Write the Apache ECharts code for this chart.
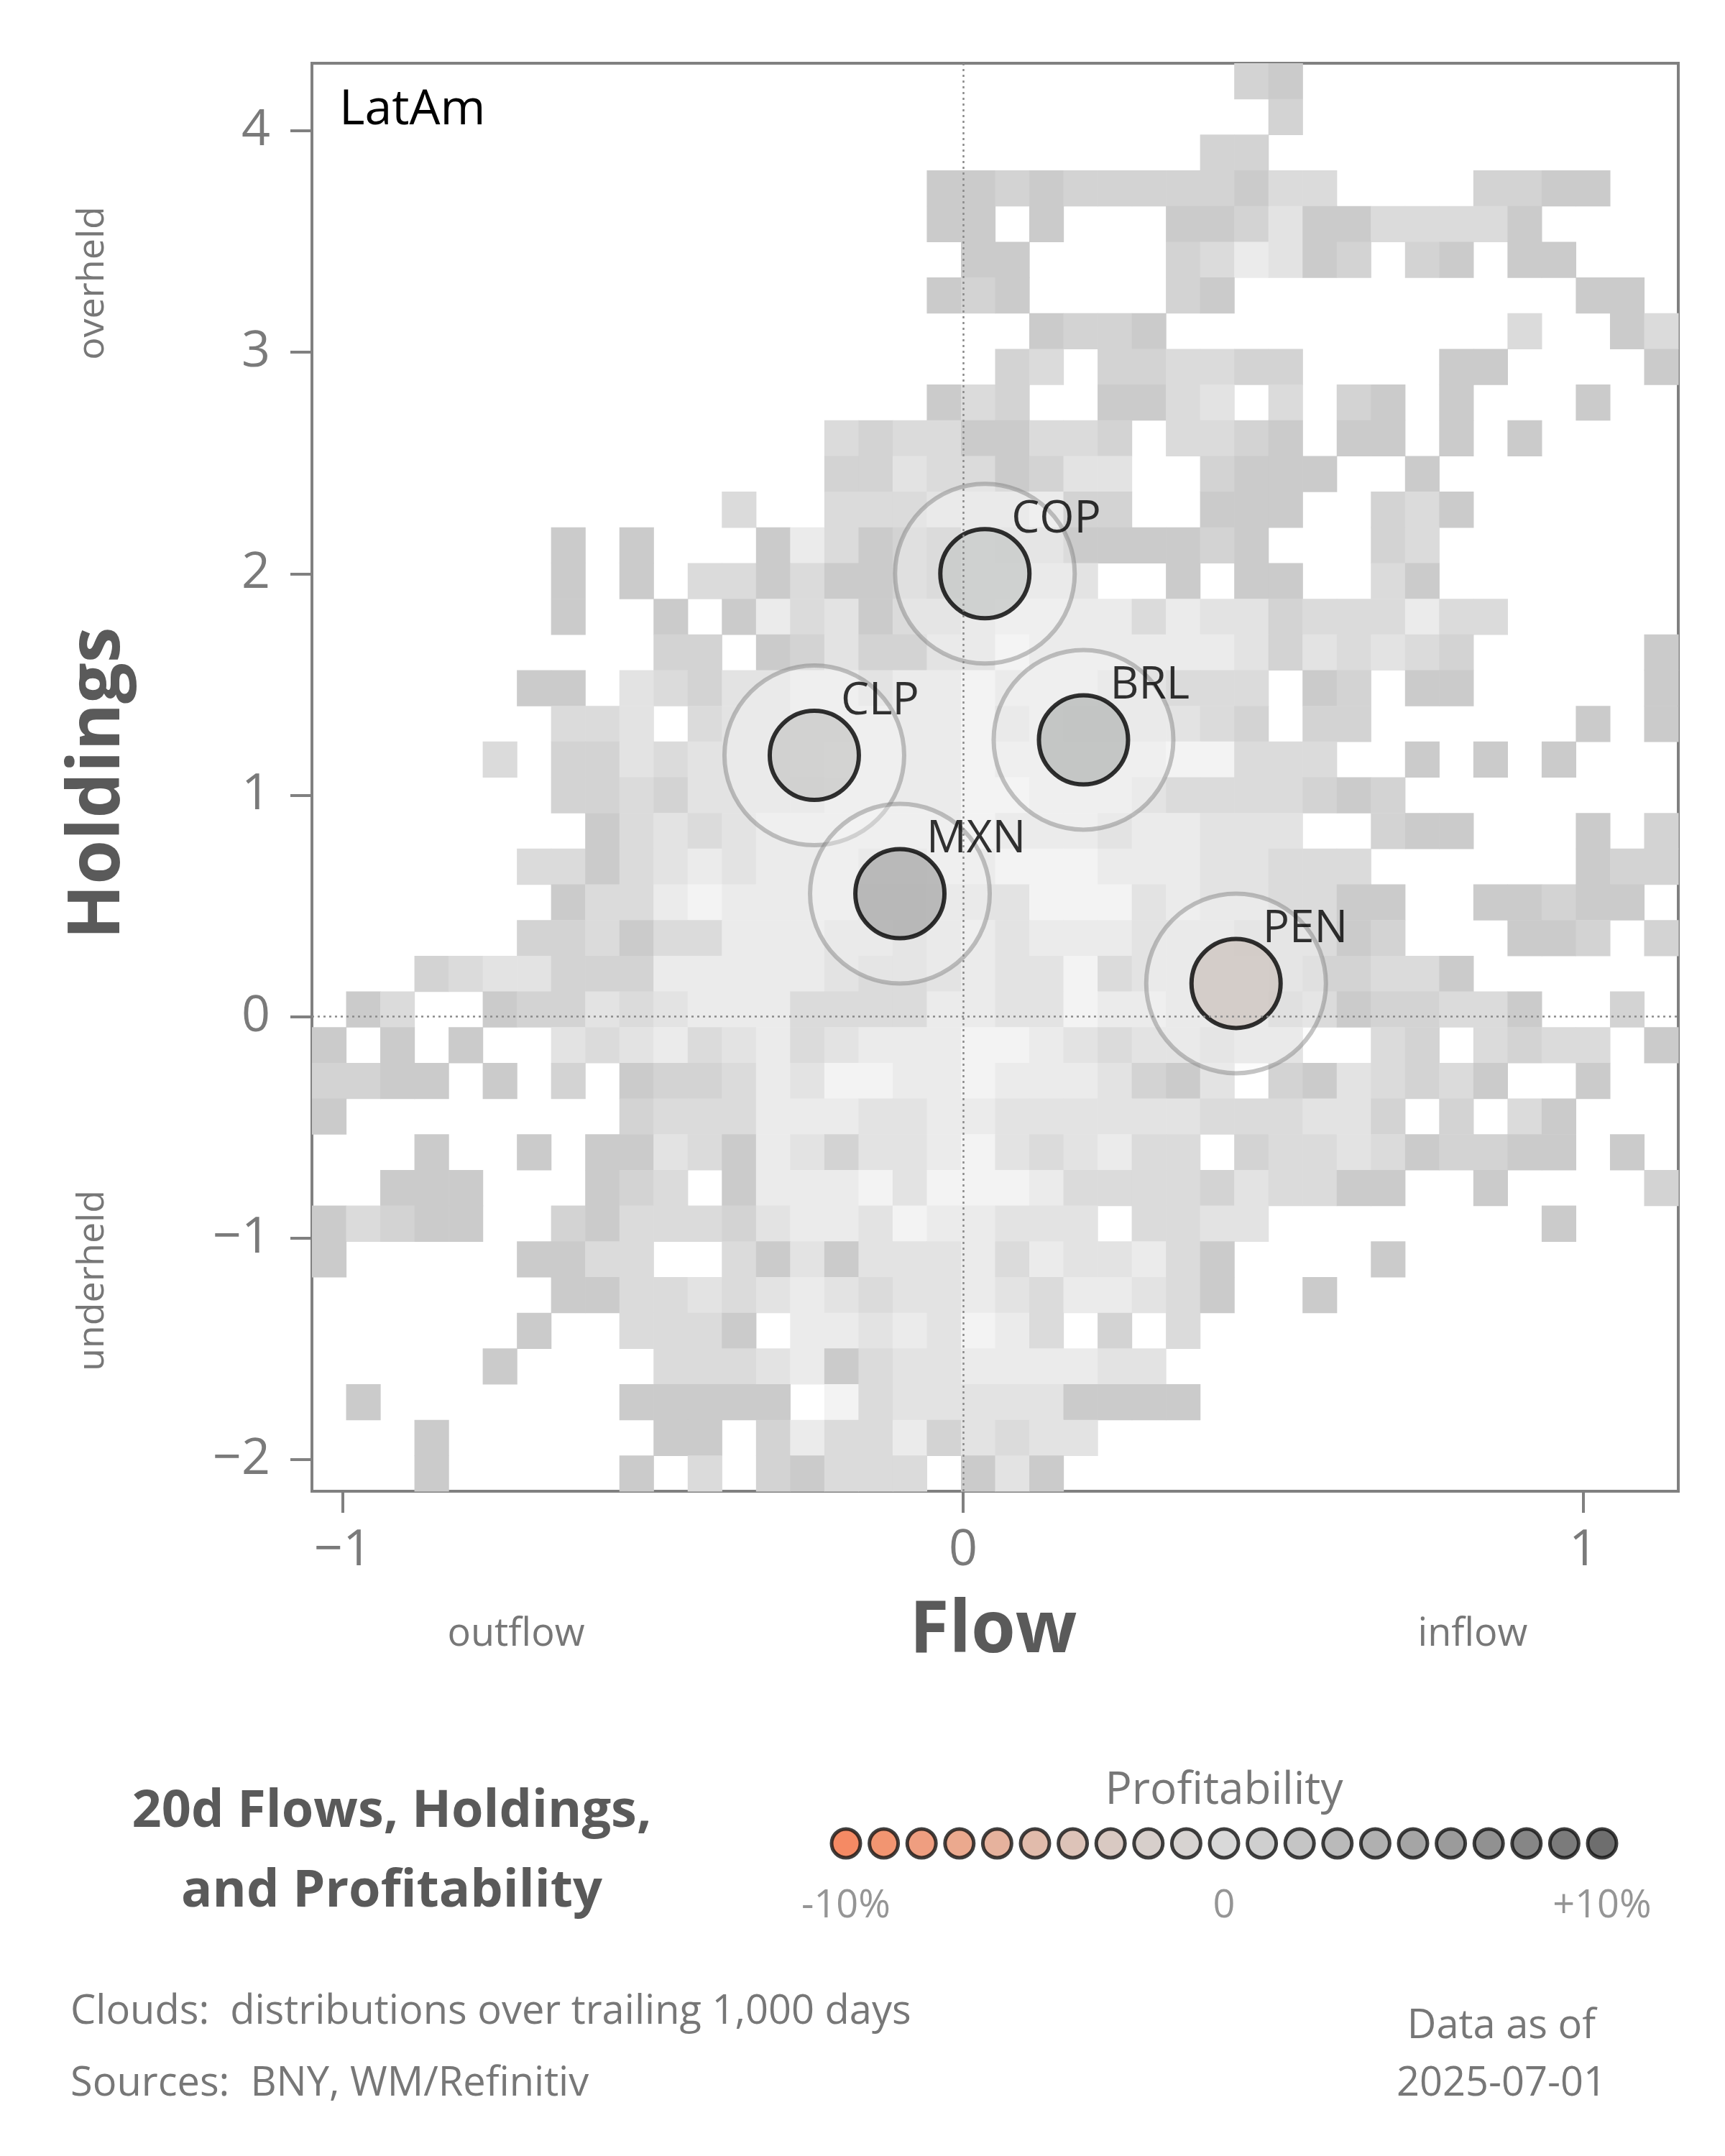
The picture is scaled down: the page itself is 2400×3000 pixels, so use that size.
<!DOCTYPE html>
<html><head><meta charset="utf-8">
<script src="https://cdn.jsdelivr.net/npm/echarts@6/dist/echarts.min.js"></script>
<style>html,body{margin:0;padding:0;background:#fff}#c{width:2400px;height:3000px}</style>
</head><body><div id="c"></div>
<script>
// ---- data ----
const X_MIN = -1.05, X_MAX = 1.153, Y_MIN = -2.143, Y_MAX = 4.305;
const N_COLS = 40, N_ROWS = 40;
// cloud density levels per cell (row 0 = top), 0 = empty
const cloudRows = [
"0000000000000000000000000002100000000000",
"0000000000000000000000000000200000000000",
"0000000000000000000000000022000000000000",
"0000000000000000001121222221330000221100",
"0000000000000000001101000112411333310000",
"0000000000000000000110000235412021011000",
"0000000000000000001210000210000000000110",
"0000000000000000000001221000000000030013",
"0000000000000000000023022332200001100001",
"0000000000000000001320011340302101000100",
"0000000000000003233113320332101101010000",
"0000000000000002243312440021110010000000",
"0000000000003003334445220011100231000000",
"0000000101000153121433111121000230000000",
"0000000101033131121444400101100310000000",
"0000000100101534133455553544233353300000",
"0000000000220124224465555554243432000001",
"0000001104324455455655544333012011000001",
"0000000334034455555645444432022000000101",
"0000030224344456555655555663330010101000",
"0000000223244445555665554333321200000000",
"0000000013434555555655545544400211000102",
"0000003313454555445566655544333000000122",
"0000000133565555334446664544331100112110",
"0000002231335554434545554443331200011202",
"0002344222555554334544634444322331000000",
"0130012243455533335544655444231223310020",
"1010100434534534555665434434400320323301",
"2211010201223546655655542140214323100100",
"1000000002333555445544444433344202031000",
"0001001011431542445643453302334312211010",
"0011100012301555646665333324331100100002",
"1321100213332455465544403344000000001000",
"1000001133003141444535445310000100000000",
"0000000113343454344543554310010000000000",
"0000001003331055454653020300000000000000",
"0000010000333451344555544000000000000000",
"0100000001111106344444111100000000000000",
"0001000000110253352434400000000000000000",
"0001000001030213330141000000000000000000"
];
const levelColors = ["#ffffff","#cbcbcb","#d3d3d3","#dbdbdb","#e3e3e3","#ebebeb","#f3f3f3"];

const currencies = ["COP","CLP","BRL","MXN","PEN"];
const flowValues = [0.035,-0.24,0.194,-0.102,0.44];
const holdingValues = [2.0,1.18,1.25,0.555,0.15];
const pointColors = ["#c8cac9","#cbcbc9","#b9bbba","#adadad","#cec6c1"];

const yTickValues = [-2,-1,0,1,2,3,4];
const xTickValues = [-1,0,1];

const legendValues = [-10,-9,-8,-7,-6,-5,-4,-3,-2,-1,0,1,2,3,4,5,6,7,8,9,10];
const legendColors = ["#f26d3d","#ef7a4e","#eb8660","#e69372","#e09f84","#daaa96","#d4b4a6","#d0bcb3","#cdc3be","#cdc8c6","#cfcfcf","#c3c3c3","#b6b6b6","#a9a9a9","#9c9c9c","#8f8f8f","#828282","#757575","#686868","#5a5a5a","#4a4a4a"];
const legendTickLabels = {"-10":"-10%","0":"0","10":"+10%"};

// ---- build ----
const CW = (X_MAX - X_MIN) / N_COLS, CH = (Y_MAX - Y_MIN) / N_ROWS;
const cells = [];
cloudRows.forEach((row, r) => {
  for (let c = 0; c < row.length; c++) {
    const lv = +row[c];
    if (lv > 0) cells.push([X_MIN + c * CW, Y_MAX - r * CH, lv]);
  }
});
const FONT = "Open Sans";
const GRAY = "#7a7a7a";
const chart = echarts.init(document.getElementById('c'), null, {renderer:'canvas', width:2400, height:3000});
const minus = v => String(v).replace('-', '\u2212');

chart.setOption({
  backgroundColor:'#fff',
  animation:false,
  textStyle:{fontFamily:FONT},
  grid:[
    {left:434, top:88, right:65, bottom:925, show:true, borderColor:'#808080', borderWidth:4, backgroundColor:'transparent'},
    {left:1177, width:1052, top:2535, height:60}
  ],
  xAxis:[
    {type:'value', gridIndex:0, min:X_MIN, max:X_MAX, position:'bottom', splitLine:{show:false}, axisLine:{show:false, onZero:false},
     axisTick:{show:true, customValues:xTickValues, length:30, inside:false, lineStyle:{color:'#808080', width:4}},
     axisLabel:{customValues:xTickValues, formatter:minus, color:GRAY, fontSize:70, margin:48, fontFamily:FONT}},
    {type:'value', gridIndex:1, min:-10, max:10, show:false}
  ],
  yAxis:[
    {type:'value', gridIndex:0, min:Y_MIN, max:Y_MAX, position:'left', splitLine:{show:false}, axisLine:{show:false, onZero:false},
     axisTick:{show:true, customValues:yTickValues, length:30, lineStyle:{color:'#808080', width:4}},
     axisLabel:{customValues:yTickValues, formatter:minus, color:GRAY, fontSize:70, margin:58, fontFamily:FONT}},
    {type:'value', gridIndex:1, min:-1, max:1, show:false}
  ],
  series:[
    {type:'custom', xAxisIndex:0, yAxisIndex:0, data:cells, silent:true, z:1,
     renderItem:(params, api) => {
       const p0 = api.coord([api.value(0), api.value(1)]);
       const p1 = api.coord([api.value(0) + CW, api.value(1) - CH]);
       return {type:'rect', shape:{x:p0[0], y:p0[1], width:p1[0]-p0[0]+0.6, height:p1[1]-p0[1]+0.6},
               style:{fill:levelColors[api.value(2)]}};
     }},
    {type:'scatter', xAxisIndex:0, yAxisIndex:0, z:3, silent:true, symbolSize:250,
     data:flowValues.map((x,i)=>[x, holdingValues[i]]),
     itemStyle:{color:'rgba(246,246,246,0.45)', borderColor:'rgba(120,120,120,0.55)', borderWidth:6},
     markLine:{silent:true, symbol:'none', label:{show:false},
       lineStyle:{color:'#8a8a8a', type:[3,5], width:2.5},
       data:[{xAxis:0},{yAxis:0}]}},
    {type:'scatter', xAxisIndex:0, yAxisIndex:0, z:4, symbolSize:124,
     data:flowValues.map((x,i)=>({name:currencies[i], value:[x, holdingValues[i]], itemStyle:{color:pointColors[i]}})),
     itemStyle:{borderColor:'#000', borderWidth:6},
     label:{show:true, formatter:'{b}', position:[102,-10], align:'left', verticalAlign:'middle', fontSize:62, color:'#000', fontFamily:FONT}},
    {type:'scatter', xAxisIndex:1, yAxisIndex:1, symbolSize:40,
     data:legendValues.map((v,i)=>({value:[v,0], itemStyle:{color:legendColors[i]}})),
     itemStyle:{borderColor:'#111', borderWidth:5},
     label:{show:true, position:'bottom', distance:38, fontSize:54, color:GRAY, fontFamily:FONT,
       formatter:p => legendTickLabels[String(p.value[0])] || ''}}
  ],
  graphic:[
    {type:'text', left:472, top:120, style:{text:'LatAm', fontSize:68, fill:'#000', fontFamily:FONT}},
    {type:'text', x:138, y:1090, rotation:Math.PI/2, style:{text:'Holdings', fontSize:100, fontWeight:'bold', fill:'#5a5a5a', fontFamily:FONT, align:'center', verticalAlign:'middle'}},
    {type:'text', x:129, y:394, rotation:Math.PI/2, style:{text:'overheld', fontSize:52, fill:'#777', fontFamily:FONT, align:'center', verticalAlign:'middle'}},
    {type:'text', x:129, y:1782, rotation:Math.PI/2, style:{text:'underheld', fontSize:52, fill:'#777', fontFamily:FONT, align:'center', verticalAlign:'middle'}},
    {type:'text', x:1382, y:2271, style:{text:'Flow', fontSize:100, fontWeight:'bold', fill:'#5a5a5a', fontFamily:FONT, align:'center', verticalAlign:'middle'}},
    {type:'text', x:718, y:2275, style:{text:'outflow', fontSize:54, fill:'#777', fontFamily:FONT, align:'center', verticalAlign:'middle'}},
    {type:'text', x:2049, y:2275, style:{text:'inflow', fontSize:54, fill:'#777', fontFamily:FONT, align:'center', verticalAlign:'middle'}},
    {type:'text', x:545, y:2521, style:{text:'20d Flows, Holdings,', fontSize:72, fontWeight:'bold', fill:'#5a5a5a', fontFamily:FONT, align:'center', verticalAlign:'middle'}},
    {type:'text', x:545, y:2632, style:{text:'and Profitability', fontSize:72, fontWeight:'bold', fill:'#5a5a5a', fontFamily:FONT, align:'center', verticalAlign:'middle'}},
    {type:'text', x:1703, y:2492, style:{text:'Profitability', fontSize:62, fill:'#777', fontFamily:FONT, align:'center', verticalAlign:'middle'}},
    {type:'text', x:98, y:2800, style:{text:'Clouds:  distributions over trailing 1,000 days', fontSize:56, fill:'#777', fontFamily:FONT, verticalAlign:'middle'}},
    {type:'text', x:98, y:2900, style:{text:'Sources:  BNY, WM/Refinitiv', fontSize:56, fill:'#777', fontFamily:FONT, verticalAlign:'middle'}},
    {type:'text', x:2089, y:2820, style:{text:'Data as of', fontSize:56, fill:'#777', fontFamily:FONT, align:'center', verticalAlign:'middle'}},
    {type:'text', x:2089, y:2900, style:{text:'2025-07-01', fontSize:56, fill:'#777', fontFamily:FONT, align:'center', verticalAlign:'middle'}}
  ]
});
</script></body></html>
